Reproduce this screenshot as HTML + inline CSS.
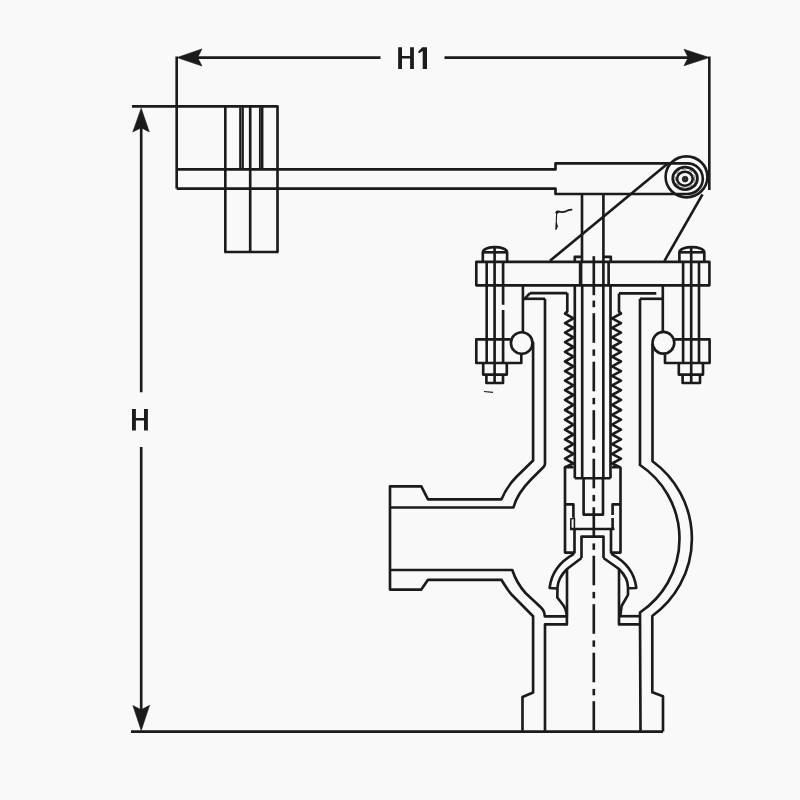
<!DOCTYPE html>
<html><head><meta charset="utf-8"><style>
html,body{margin:0;padding:0;background:#f9f9f9;}
body{width:800px;height:800px;overflow:hidden;position:relative;}
svg{position:absolute;left:0;top:0;}
</style></head><body>
<svg width="800" height="800" viewBox="0 0 800 800">
<g fill="none" stroke="#1b1b1b" stroke-width="2.65" stroke-linecap="butt" stroke-linejoin="round">
<line x1="196" y1="57.6" x2="380.5" y2="57.6"/>
<line x1="444.5" y1="57.6" x2="690" y2="57.6"/>
<path d="M177 57.6 L202 48.9 L197.6 57.6 L202 66.0 Z" stroke-width="0.6" fill="#1b1b1b"/>
<path d="M709.3 57.6 L684 49.3 L688.2 57.6 L684 65.7 Z" stroke-width="0.6" fill="#1b1b1b"/>
<line x1="176.7" y1="56.5" x2="176.7" y2="188.6"/>
<line x1="709.3" y1="56.5" x2="709.3" y2="190"/>
<line x1="132" y1="106.4" x2="277.5" y2="106.4"/>
<line x1="141.2" y1="125" x2="141.2" y2="392.3"/>
<line x1="141.2" y1="447" x2="141.2" y2="714"/>
<path d="M141.2 108.2 L132.8 131.9 L141.2 127.8 L149.3 131.9 Z" stroke-width="0.6" fill="#1b1b1b"/>
<path d="M141.2 730.6 L132.9 705.5 L141.2 709.8 L149.6 705.3 Z" stroke-width="0.6" fill="#1b1b1b"/>
<line x1="131" y1="731.6" x2="663" y2="731.6"/>
<line x1="225.3" y1="106.4" x2="225.3" y2="252"/>
<line x1="250.2" y1="106.4" x2="250.2" y2="252"/>
<line x1="277.5" y1="105.3" x2="277.5" y2="252"/>
<line x1="224.2" y1="252" x2="278.6" y2="252"/>
<line x1="242.6" y1="106.4" x2="242.6" y2="169.4" stroke-width="2.5"/>
<line x1="262.2" y1="106.4" x2="262.2" y2="169.4" stroke-width="2.5"/>
<line x1="240.1" y1="107.5" x2="240.1" y2="168.5" stroke-width="1.9"/>
<line x1="259.9" y1="107.5" x2="259.9" y2="168.5" stroke-width="1.9"/>
<path d="M176.7 169.4 L555.5 169.4 L555.5 163.4 L687.5 163.4 A15.3 15.3 0 0 1 687.5 194 L555.5 194 L555.5 188.6 L176.7 188.6"/>
<ellipse cx="686.5" cy="176.8" rx="20.9" ry="20.5"/>
<ellipse cx="685.1" cy="178.4" rx="12.3" ry="11.2" stroke-width="2.8"/>
<ellipse cx="684.9" cy="178.7" rx="7.8" ry="7.0" stroke-width="2.6"/>
<circle cx="685.0" cy="178.6" r="9.6" stroke-width="1.0" stroke="#777" stroke-dasharray="4 3"/>
<circle cx="685.1" cy="179.1" r="2.9" stroke-width="0.8" fill="#2a2a2a"/>
<line x1="550" y1="260.8" x2="667.5" y2="163.8"/>
<line x1="664.5" y1="260.8" x2="702.5" y2="194.4"/>
<line x1="582" y1="194" x2="582" y2="262"/>
<line x1="603.4" y1="194" x2="603.4" y2="262"/>
<path d="M582 256.8 L574.8 256.8 L574.8 262"/>
<path d="M603.4 256.8 L610.8 256.8 L610.8 262"/>
<path d="M476.3 261.9 L709.4 261.9 L709.4 285.3 L476.3 285.3 Z"/>
<path d="M482.8 261.9 L482.8 252.4 C482.8 245.4 507.1 245.4 507.1 252.4 L507.1 261.9"/>
<line x1="482.8" y1="252.3" x2="507.1" y2="252.3"/>
<line x1="494.6" y1="246.6" x2="494.6" y2="261.9"/>
<line x1="486.7" y1="261.9" x2="486.7" y2="363"/>
<line x1="494.6" y1="261.9" x2="494.6" y2="383"/>
<line x1="503.1" y1="261.9" x2="503.1" y2="304.8"/>
<line x1="503.1" y1="310" x2="503.1" y2="363"/>
<path d="M483.2 363 L483.2 374.6 L506.8 374.6 L506.8 363"/>
<path d="M486.4 374.6 L486.4 383 L503.0 383 L503.0 374.6"/>
<path d="M679.4 261.9 L679.4 252.4 C679.4 245.4 704.3 245.4 704.3 252.4 L704.3 261.9"/>
<line x1="679.4" y1="252.3" x2="704.3" y2="252.3"/>
<line x1="691.2" y1="246.6" x2="691.2" y2="261.9"/>
<line x1="683.1" y1="261.9" x2="683.1" y2="363"/>
<line x1="691.2" y1="261.9" x2="691.2" y2="383"/>
<line x1="699.0" y1="261.9" x2="699.0" y2="363"/>
<path d="M678.8 363 L678.8 374.6 L703.0 374.6 L703.0 363"/>
<path d="M682.6 374.6 L682.6 383 L700.0 383 L700.0 374.6"/>
<path d="M510.5 339.4 L476.3 339.4 L476.3 363 L521.3 363 L521.3 354.5"/>
<path d="M674.5 339.4 L709.6 339.4 L709.6 363 L665.0 363 L665.0 354.5"/>
<circle cx="521.7" cy="343.0" r="10.8"/>
<circle cx="663.4" cy="342.8" r="10.9"/>
<line x1="522.9" y1="285.3" x2="522.9" y2="332.2"/>
<line x1="662.8" y1="285.3" x2="662.8" y2="331.9"/>
<line x1="530" y1="293.1" x2="567.3" y2="293.1"/>
<path d="M523 298.8 L524.5 298.8 L530 293.1"/>
<line x1="523" y1="298.8" x2="545" y2="298.8"/>
<line x1="656.3" y1="293.4" x2="619.0" y2="293.4"/>
<line x1="640" y1="298.8" x2="662.8" y2="298.8"/>
<line x1="574.8" y1="285.3" x2="574.8" y2="478.2"/>
<line x1="610.5" y1="285.3" x2="610.5" y2="478.2"/>
<line x1="574.8" y1="478.2" x2="610.5" y2="478.2"/>
<line x1="582.2" y1="285.3" x2="582.2" y2="478.2"/>
<line x1="603.3" y1="285.3" x2="603.3" y2="478.2"/>
<line x1="580.6" y1="261.9" x2="580.6" y2="285.3" stroke-width="3.6"/>
<line x1="608.6" y1="261.9" x2="608.6" y2="285.3"/>
<line x1="603.4" y1="261.9" x2="603.4" y2="285.3"/>
<path d="M567.3 293.1 L567.3 311.5 L565.0 313.5 L573.4 318.3 L565.0 323.1 L573.4 327.9 L565.0 332.6 L573.4 337.4 L565.0 342.2 L573.4 347.0 L565.0 351.9 L573.4 356.7 L565.0 361.5 L573.4 366.3 L565.0 371.1 L573.4 375.9 L565.0 380.7 L573.4 385.4 L565.0 390.1 L573.4 395.0 L565.0 399.9 L573.4 404.9 L565.0 410.0 L573.4 414.8 L565.0 419.6 L573.4 424.6 L565.0 429.7 L573.4 434.5 L565.0 439.3 L573.4 444.1 L565.0 448.9 L573.4 453.8 L565.0 458.7 L573.4 463.5 L565 467.2 L573.5 467.2"/>
<path d="M619.0 293.4 L619.0 311.5 L621.0 313.5 L612.0 318.3 L621.0 323.1 L612.0 327.9 L621.0 332.6 L612.0 337.4 L621.0 342.2 L612.0 347.0 L621.0 351.9 L612.0 356.7 L621.0 361.5 L612.0 366.3 L621.0 371.1 L612.0 375.9 L621.0 380.7 L612.0 385.4 L621.0 390.1 L612.0 395.0 L621.0 399.9 L612.0 404.9 L621.0 410.0 L612.0 414.8 L621.0 419.6 L612.0 424.6 L621.0 429.7 L612.0 434.5 L621.0 439.3 L612.0 444.1 L621.0 448.9 L612.0 453.8 L621.0 458.7 L612.0 463.5 L620.0 467.2 L612 467.2"/>
<path d="M533.1 342 L533.1 460.5 L516.5 476.8 Q506.5 487 501.5 499.3 L428 499.3 L421.3 486.3 L390 486.3 L390 589.6 L421.3 589.6 L428 579.8 L501.4 579.8 Q507.5 590 512.3 595.3 L533.1 616.2 L533.1 692.5 L522.5 697 L522.5 731.6"/>
<path d="M545 298.8 L545 463.5 Q545 465.8 543.3 467.3 L531 479.5 Q517.5 493 513.4 507.5 L390 507.5"/>
<path d="M390 570 L512.3 570 Q516.5 583 525.5 593 L541 607.5 Q544.6 611 544.8 616.3 L566.9 616.3 L566.9 624.4 L545 624.4 L545 731.6"/>
<path d="M640 298.8 L640 465 A88.6 88.6 0 0 1 640 612.5 L640.5 731.6"/>
<path d="M652.5 344 L652.5 461.3 A95.5 95.5 0 0 1 652.3 616 L652.3 692.2 L663 696.3 L663 731.6"/>
<path d="M619 569 L619 624.4 L640 624.4"/>
<line x1="619" y1="616.2" x2="640" y2="616.2"/>
<path d="M565 467.2 L565 552.6 L574.5 552.6 L574.5 529"/>
<path d="M565 504.3 L573.4 504.3 L573.4 517.5"/>
<path d="M570.8 529 L570.8 519 L574.4 518 L574.4 529" stroke-width="1.6"/>
<path d="M620.5 467.2 L620.5 552.6 L611 552.6 L611 529"/>
<path d="M620.5 504.3 L612.6 504.3 L612.6 515"/>
<line x1="612.6" y1="518" x2="612.6" y2="529"/>
<line x1="570" y1="529" x2="614.5" y2="529"/>
<path d="M583.6 478.2 L583.6 514.6 L603 514.6 L603 478.2"/>
<path d="M581.5 558 L581.5 536.6 L603.5 536.6 L603.5 558"/>
<path d="M581.5 558 L567 569 Q558 578 557.5 587.3 L557.3 597.5 L563.5 605.5 Q566.3 609.5 566.9 615"/>
<path d="M603.5 558 L619 569 Q628 578 628 587.3 L628 594.8 L621.6 606 L620.3 615.8"/>
<path d="M574 553.8 Q552 566 549.6 588 L556.8 588.5"/>
<path d="M611.3 553.8 Q634 566 636.3 588 L629.1 588.3"/>
<line x1="567" y1="569" x2="567" y2="616.5"/>
<line x1="593.8" y1="256.2" x2="593.8" y2="295.2"/>
<path d="M593.8 300.6 L593.8 307.2"/>
<line x1="593.8" y1="313.2" x2="593.8" y2="342.8"/>
<line x1="593.8" y1="349.4" x2="593.8" y2="355.8"/>
<line x1="593.8" y1="361.7" x2="593.8" y2="391.3"/>
<line x1="593.8" y1="397.9" x2="593.8" y2="404.3"/>
<line x1="593.8" y1="410.2" x2="593.8" y2="439.8"/>
<line x1="593.8" y1="446.4" x2="593.8" y2="452.8"/>
<line x1="593.8" y1="458.7" x2="593.8" y2="488.3"/>
<line x1="593.8" y1="494.9" x2="593.8" y2="501.3"/>
<line x1="593.8" y1="507.2" x2="593.8" y2="536.8"/>
<line x1="593.8" y1="543.4" x2="593.8" y2="549.8"/>
<line x1="593.8" y1="555.7" x2="593.8" y2="585.3"/>
<line x1="593.8" y1="591.9" x2="593.8" y2="598.3"/>
<line x1="593.8" y1="604.2" x2="593.8" y2="633.8"/>
<line x1="593.8" y1="640.4" x2="593.8" y2="646.8"/>
<line x1="593.8" y1="652.7" x2="593.8" y2="682.3"/>
<line x1="593.8" y1="688.9" x2="593.8" y2="695.3"/>
<line x1="593.8" y1="701.2" x2="593.8" y2="730.8"/>
<path d="M556.0 229.5 L556.6 213.5" stroke-width="1.1"/>
<path d="M555.9 213.4 Q556.8 211.0 559.2 211.6 Q562.5 212.6 565.8 211.4 Q568.5 209.4 572.3 209.6" stroke-width="1.7"/>
<path d="M556.4 222.5 L556.0 229.5 L557.6 226.5 Z" stroke-width="0.8" fill="#1b1b1b"/>
<circle cx="557.3" cy="212.2" r="1.3" stroke-width="0.5" fill="#1b1b1b"/>
<line x1="484" y1="391.5" x2="493" y2="392.3" stroke-width="1.2"/>
</g>
<g fill="#1e1c1a">
<path d="M398.15 47.3H402V68.9H398.15Z M410.1 47.3H413.9V68.9H410.1Z M401.5 55.9H410.5V58.6H401.5Z"/>
<path d="M422.2 47.3H427V68.9H422.7V50.9L419.6 52.9Q418.4 53.3 418.2 52.1Q418.2 51.3 419.0 50.7Z"/>
<path d="M132 408.9H135.9V430.4H132Z M144 408.9H147.9V430.4H144Z M135.5 418H144.4V420.6H135.5Z"/>
</g>
</svg>
</body></html>
